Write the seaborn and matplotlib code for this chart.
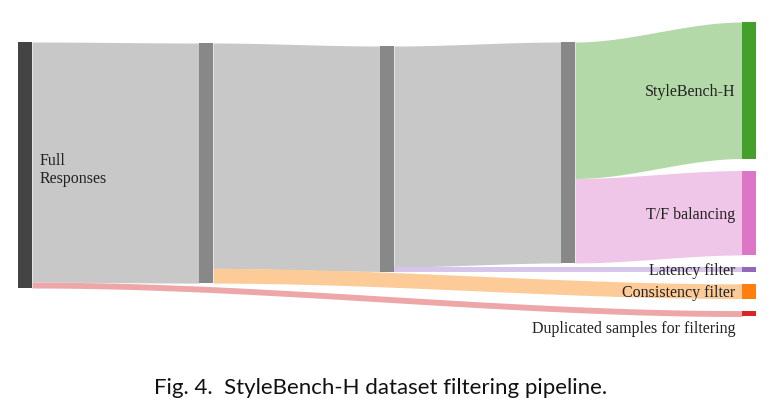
import numpy as np
import seaborn as sns
import matplotlib.pyplot as plt

# sankey data: nodes and links (sample counts)
node_labels = ['Full\nResponses', '', '', '', 'StyleBench-H', 'T/F balancing',
               'Latency filter', 'Consistency filter', 'Duplicated samples for filtering']
node_column = [0, 1, 2, 3, 4, 4, 4, 4, 4]
link_source = [0, 0, 1, 1, 2, 2, 3, 3]
link_target = [1, 8, 2, 7, 3, 6, 4, 5]
link_value = [2445, 60, 2295, 150, 2250, 50, 1390, 860]

node_colors = ['#444444', '#888888', '#888888', '#888888',
               '#44a02a', '#dc76c6', '#9467bd', '#ff7f0e', '#d62728']
link_colors = ['#c8c8c8', '#eda7a8', '#c8c8c8', '#fccb98',
               '#c8c8c8', '#d6c6ea', '#b4d9a8', '#f0c6e8']

sns.set_theme(style='white')

W, H = 776, 417
fig = plt.figure(figsize=(W / 100, H / 100), dpi=100)
ax = fig.add_axes([0, 0, 1, 1])

# layout constants (pixels)
col_left0, col_step, node_w = 18, 181, 14
top_px, px_per_unit = 42, 246 / 2505
pad = 12 / px_per_unit
col_shift_px = [0, 1, 4, 0, -20]   # relaxed vertical placement of each column

n = len(node_labels)
inflow = np.zeros(n)
outflow = np.zeros(n)
for s, t, v in zip(link_source, link_target, link_value):
    outflow[s] += v
    inflow[t] += v
node_val = np.maximum(inflow, outflow)

# stack nodes per column
node_y = np.zeros(n)
for c in sorted(set(node_column)):
    idx = [i for i in range(n) if node_column[i] == c]
    y = col_shift_px[c] / px_per_unit
    for i in idx:
        node_y[i] = y
        y += node_val[i] + pad

node_x = np.array([col_left0 + col_step * c for c in node_column], dtype=float)

# link attachment points
out_off = node_y.copy()
in_off = node_y.copy()
order = sorted(range(len(link_value)), key=lambda k: (link_source[k], node_y[link_target[k]]))
src_y = {}
for k in order:
    src_y[k] = out_off[link_source[k]]
    out_off[link_source[k]] += link_value[k]
order = sorted(range(len(link_value)), key=lambda k: (link_target[k], node_y[link_source[k]]))
tgt_y = {}
for k in order:
    tgt_y[k] = in_off[link_target[k]]
    in_off[link_target[k]] += link_value[k]

t = np.linspace(0, 1, 200)
ease = 3 * t ** 2 - 2 * t ** 3
for k, v in enumerate(link_value):
    s, g = link_source[k], link_target[k]
    x0 = node_x[s] + node_w
    x1 = node_x[g]
    xs = x0 + (x1 - x0) * t
    y_top = src_y[k] + (tgt_y[k] - src_y[k]) * ease
    ax.fill_between(xs, y_top, y_top + v, color=link_colors[k], lw=0, zorder=1)

ax.bar(node_x, node_val, bottom=node_y, width=node_w, align='edge',
       color=node_colors, edgecolor='none', zorder=2)

lab_kw = dict(fontsize=11.5, family='Liberation Serif', color='#222222')
for i, lab in enumerate(node_labels):
    if not lab:
        continue
    yc = node_y[i] + node_val[i] / 2
    if node_column[i] == 0:
        ax.text(node_x[i] + node_w + 8, yc + 5 / px_per_unit, lab, ha='left', va='center',
                linespacing=1.2, **lab_kw)
    elif i == n - 1:
        ax.text(node_x[i] - 7, node_y[i] + node_val[i] + 5 / px_per_unit, lab,
                ha='right', va='top', **lab_kw)
    else:
        ax.text(node_x[i] - 7, yc, lab, ha='right', va='center_baseline', **lab_kw)

ax.set_xlim(0, W)
ax.set_ylim((H - top_px) / px_per_unit, -top_px / px_per_unit)
ax.axis('off')

fig.text(381 / W, 1 - 388 / H, 'Fig. 4.  StyleBench-H dataset filtering pipeline.',
         ha='center', va='center', fontsize=16, family='Lato', color='#111111')

fig.savefig('out.png', dpi=100)
